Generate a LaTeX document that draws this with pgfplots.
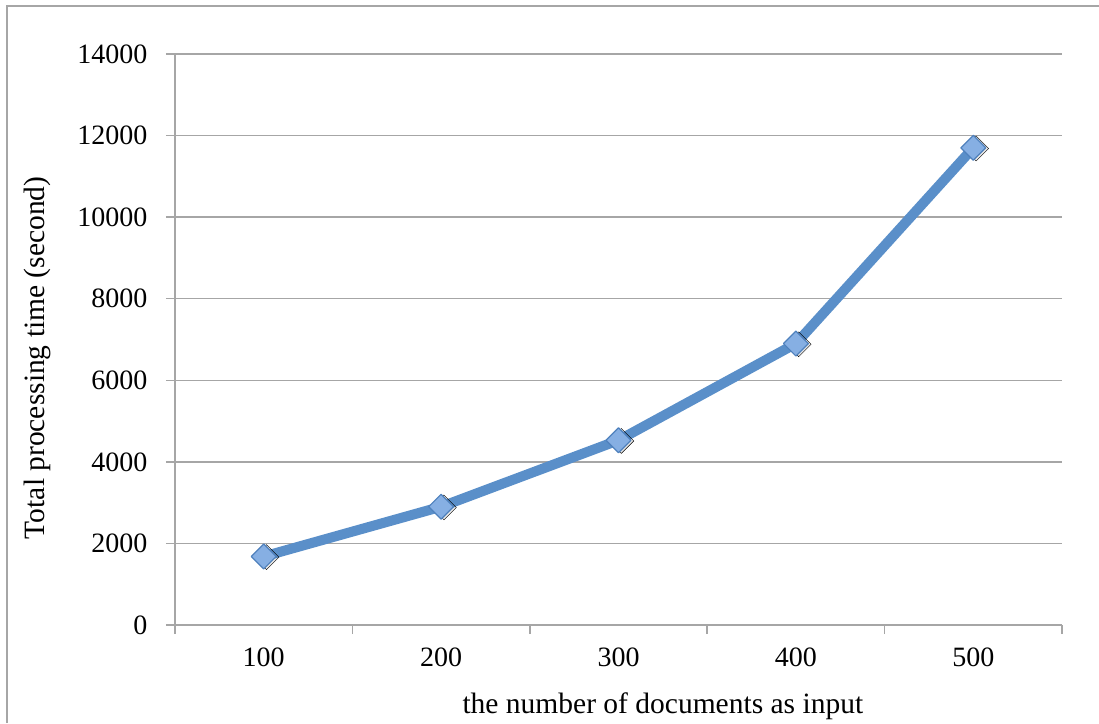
\documentclass[border=0pt]{standalone}
\usepackage{fontspec}
\setmainfont{Liberation Serif}
\usepackage{pgfplots}
\pgfplotsset{compat=1.18}
\definecolor{linecol}{HTML}{5A8FC9}
\definecolor{markfill}{HTML}{86AFE3}
\definecolor{markdraw}{HTML}{4F81BD}
\definecolor{gridcol}{HTML}{A6A6A6}
\begin{document}
\begin{tikzpicture}[x=1pt,y=1pt]
\useasboundingbox (0,0) rectangle (1099,723);
\draw[color=gridcol, line width=1.5pt] (7,0) -- (7,717) -- (1099,717);
\begin{axis}[
  at={(175pt,98pt)}, anchor=south west,
  scale only axis, width=887pt, height=571pt,
  xmin=0.5, xmax=5.5, ymin=0, ymax=14000,
  axis x line*=bottom, axis y line*=left,
  axis line style={gridcol, line width=1.5pt, -},
  tick align=outside, major tick length=9pt,
  tick style={gridcol, line width=1.5pt},
  xtick={0.5,1.5,2.5,3.5,4.5,5.5}, xticklabels={},
  extra x ticks={1,2,3,4,5},
  extra x tick labels={100,200,300,400,500},
  extra x tick style={major tick length=0pt, xticklabel style={yshift=-19pt}},
  ytick={0,2000,4000,6000,8000,10000,12000,14000},
  scaled y ticks=false,
  /pgf/number format/assume math mode=true,
  yticklabel style={/pgf/number format/1000 sep={}, xshift=-15pt},
  ticklabel style={font=\fontsize{28}{34}\selectfont},
  ymajorgrids, grid style={gridcol, line width=1.5pt},
  xlabel={the number of documents as input},
  ylabel={Total processing time (second)},
  label style={font=\fontsize{29.5}{35}\selectfont},
  xlabel style={at={(axis description cs:0.550,-0.142)}, anchor=center},
  ylabel style={at={(axis description cs:-0.1556,0.468)}, anchor=center},
  clip=false,
]
\addplot[only marks, mark=square*, mark size=8.8pt, mark options={rotate=45, draw=none, fill=black, fill opacity=0.10, xshift=1.5pt, yshift=-2.5pt}] coordinates {(1,1680) (2,2900) (3,4530) (4,6900) (5,11700)};
\addplot[color=linecol, line width=10pt, line join=round, mark=square*, mark size=8.8pt, mark options={rotate=45, fill=markfill, draw=markdraw, line width=1.2pt}] coordinates {(1,1680) (2,2900) (3,4530) (4,6900) (5,11700)};
\end{axis}
\end{tikzpicture}
\end{document}
